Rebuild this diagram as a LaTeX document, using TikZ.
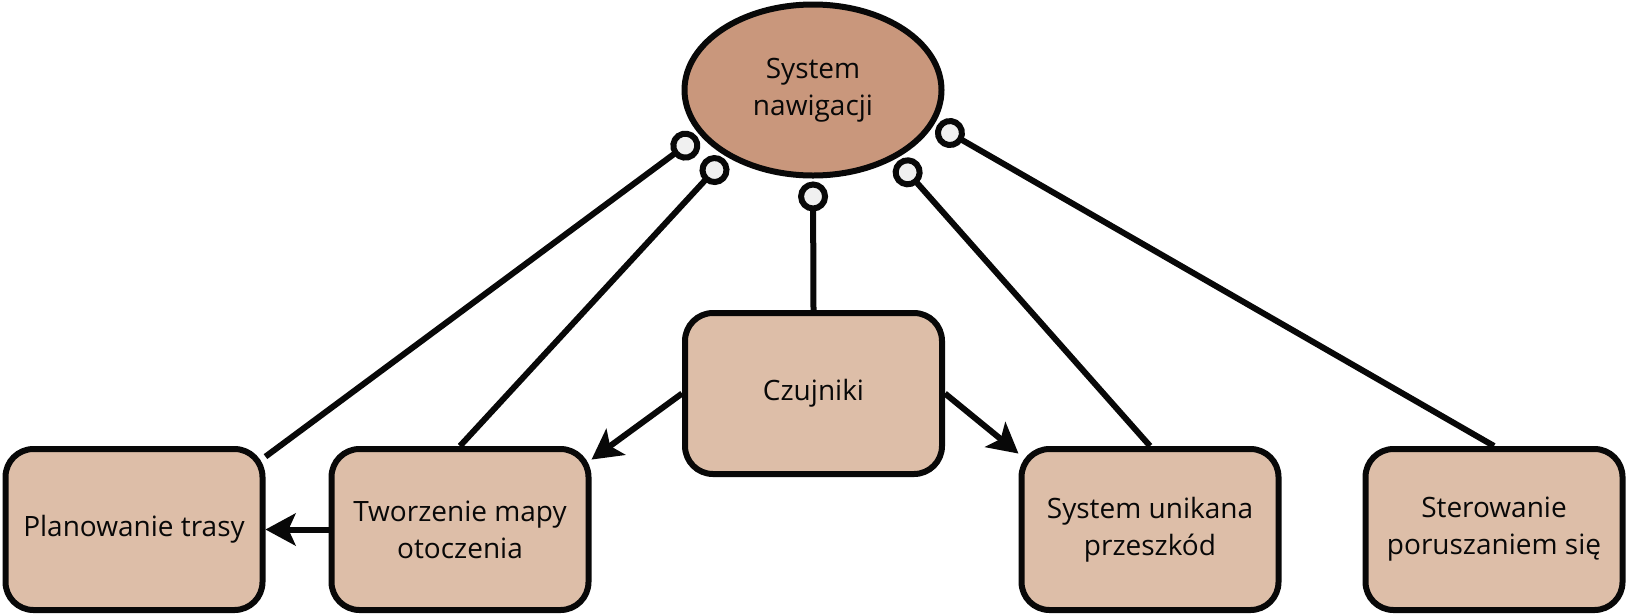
\documentclass[tikz,border=0pt]{standalone}
\usepackage{fontspec}
\setmainfont{Open Sans}
\usetikzlibrary{arrows.meta,shapes.geometric}

\definecolor{navfill}{RGB}{201,151,124}
\definecolor{boxfill}{RGB}{221,190,168}
\definecolor{tipfill}{RGB}{240,240,240}
\definecolor{ink}{RGB}{8,8,8}

\tikzset{
  box/.style={draw=ink, fill=boxfill, text=ink, line width=6pt, rounded corners=28pt,
    minimum width=257pt, minimum height=161pt, align=center,
    font=\fontsize{28}{37}\selectfont},
  hub/.style={ellipse, draw=ink, fill=navfill, text=ink, line width=6pt,
    minimum width=257pt, minimum height=171pt, inner sep=0pt, outer sep=6pt,
    align=center, font=\fontsize{28}{37}\selectfont},
  link/.style={draw=ink, line width=6pt, -{Circle[open,length=30pt,width=30pt,fill=tipfill]}},
  flow/.style={draw=ink, line width=6pt, -{Stealth[length=30pt,width=32pt,inset=7pt]}}
}

\begin{document}
\begin{tikzpicture}[x=1pt,y=-1pt]
  \useasboundingbox (0,0) rectangle (1627,614);
  \node[hub] (nav) at (813,90) {System\\nawigacji};
  \node[box] (plan) at (134,529.5) {Planowanie trasy};
  \node[box] (mapa) at (460,529.5) {Tworzenie mapy\\otoczenia};
  \node[box] (czuj) at (813.5,393.5) {Czujniki};
  \node[box] (unik) at (1150,529.5) {System unikana\\przeszkód};
  \node[box] (ster) at (1494,529.5) {Sterowanie\\poruszaniem się};
  \draw[link] (plan.29) -- (nav.202);
  \draw[link] (mapa.north) -- (nav.218);
  \draw[link] (czuj.north) -- (nav.south);
  \draw[link] (unik.north) -- (nav.320);
  \draw[link] (ster.north) -- (nav.344);
  \draw[flow] (czuj.west) -- (mapa.28);
  \draw[flow] (czuj.east) -- (unik.150);
  \draw[flow] (mapa.west) -- (plan.east);
\end{tikzpicture}
\end{document}
